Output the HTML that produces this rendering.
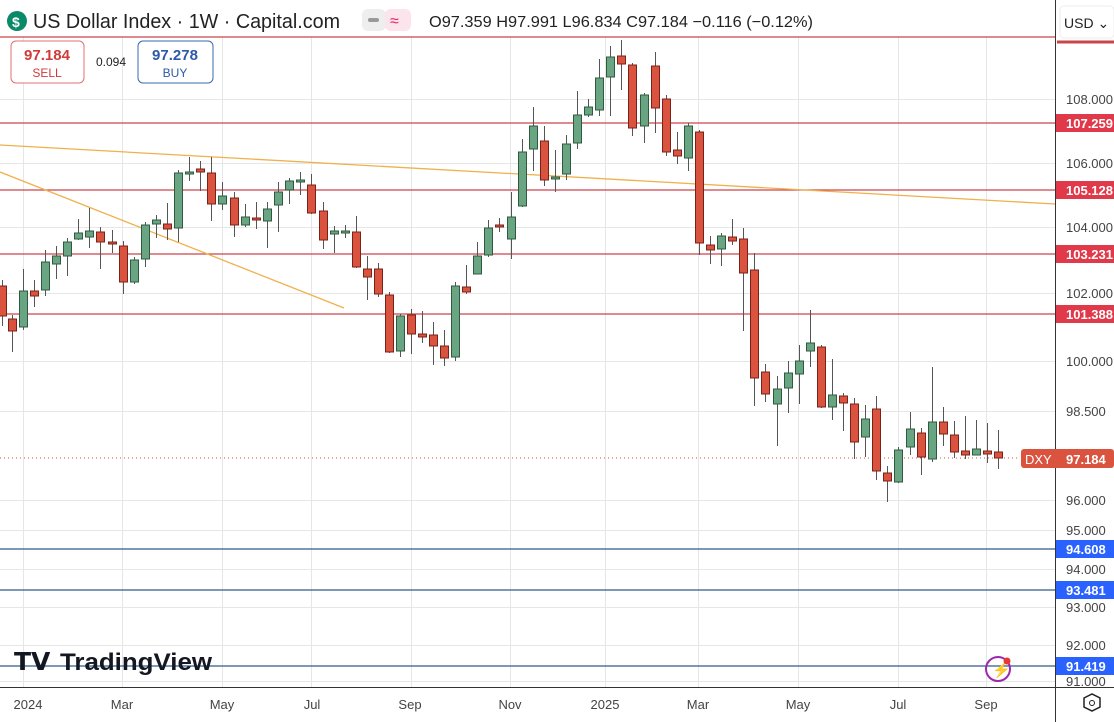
<!DOCTYPE html>
<html><head><meta charset="utf-8"><style>
body{margin:0;width:1114px;height:722px;overflow:hidden;background:#fff;font-family:"Liberation Sans",sans-serif;}
svg{position:absolute;left:0;top:0}
</style></head><body>
<svg id="s" width="1114" height="722" xmlns="http://www.w3.org/2000/svg" font-family="Liberation Sans, sans-serif">
<g id="grid" stroke="#e6e6e6" stroke-width="1"></g>
<line x1="0" y1="37" x2="1055" y2="37" stroke="#c9454a" stroke-width="1.3"/>
<g stroke="#c9454a" stroke-width="1.2">
<line x1="0" y1="123" x2="1055" y2="123"/><line x1="0" y1="190" x2="1055" y2="190"/>
<line x1="0" y1="254" x2="1055" y2="254"/><line x1="0" y1="314" x2="1055" y2="314"/></g>
<g stroke="#2f5a8a" stroke-width="1.2">
<line x1="0" y1="549" x2="1055" y2="549"/><line x1="0" y1="590" x2="1055" y2="590"/><line x1="0" y1="666" x2="1055" y2="666"/></g>
<g stroke="#f0b04c" stroke-width="1.3"><line x1="0" y1="145" x2="1055" y2="204"/><line x1="0" y1="172" x2="344" y2="308"/></g>
<line x1="0" y1="458" x2="1020" y2="458" stroke="#d9533f" stroke-dasharray="1,3"/>
<g id="c"></g>
<line x1="1055.5" y1="0" x2="1055.5" y2="722" stroke="#333"/>
<line x1="0" y1="687.5" x2="1114" y2="687.5" stroke="#333"/>
<line x1="1057" y1="42" x2="1114" y2="42" stroke="#c9454a" stroke-width="3"/>
<rect x="1060" y="6" width="54" height="32" rx="4" fill="#fff" stroke="#eee"/>
<text x="1064" y="28" font-size="14" fill="#222">USD ⌄</text>
<g font-size="13" fill="#444">
<text x="1066" y="104">108.000</text><text x="1066" y="168">106.000</text><text x="1066" y="232">104.000</text>
<text x="1066" y="298">102.000</text><text x="1066" y="366">100.000</text><text x="1066" y="416">98.500</text>
<text x="1066" y="505">96.000</text><text x="1066" y="535">95.000</text><text x="1066" y="574">94.000</text>
<text x="1066" y="612">93.000</text><text x="1066" y="650">92.000</text><text x="1066" y="686">91.000</text></g>
<g font-size="13" fill="#fff" font-weight="bold">
<rect x="1056" y="114" width="58" height="18" fill="#e0394a"/><text x="1066" y="128">107.259</text>
<rect x="1056" y="181" width="58" height="18" fill="#e0394a"/><text x="1066" y="195">105.128</text>
<rect x="1056" y="245" width="58" height="18" fill="#e0394a"/><text x="1066" y="259">103.231</text>
<rect x="1056" y="305" width="58" height="18" fill="#e0394a"/><text x="1066" y="319">101.388</text>
<rect x="1056" y="540" width="58" height="18" fill="#2962ff"/><text x="1066" y="554">94.608</text>
<rect x="1056" y="581" width="58" height="18" fill="#2962ff"/><text x="1066" y="595">93.481</text>
<rect x="1056" y="657" width="58" height="18" fill="#2962ff"/><text x="1066" y="671">91.419</text>
<rect x="1021" y="449" width="93" height="19" rx="3" fill="#d9533f"/><text x="1025" y="464" font-weight="normal">DXY</text><text x="1066" y="464">97.184</text></g>
<g font-size="13" fill="#444" text-anchor="middle">
<text x="28" y="709">2024</text><text x="122" y="709">Mar</text><text x="222" y="709">May</text><text x="312" y="709">Jul</text>
<text x="410" y="709">Sep</text><text x="510" y="709">Nov</text><text x="605" y="709">2025</text><text x="698" y="709">Mar</text>
<text x="798" y="709">May</text><text x="898" y="709">Jul</text><text x="986" y="709">Sep</text></g>
<polygon points="1084,698 1092,694 1100,698 1100,707 1092,711 1084,707" fill="none" stroke="#222" stroke-width="1.5"/>
<circle cx="1092" cy="703" r="2.5" fill="none" stroke="#222"/>
<circle cx="998" cy="669" r="12" fill="none" stroke="#9c27b0" stroke-width="2"/>
<text x="992" y="675" font-size="15" fill="#9c27b0">⚡</text><circle cx="1007" cy="661" r="3.5" fill="#e53935"/>
<rect x="0" y="0" width="1055" height="36" fill="#fff"/>
<circle cx="17" cy="21" r="10" fill="#0b8a6a"/><text x="12" y="27" font-size="14" fill="#fff" font-weight="bold">$</text>
<text x="33" y="28" font-size="20" fill="#222" textLength="307" lengthAdjust="spacingAndGlyphs">US Dollar Index · 1W · Capital.com</text>
<rect x="362" y="9" width="24" height="22" rx="6" fill="#eee"/><rect x="368" y="18" width="11" height="4" rx="2" fill="#999"/>
<rect x="385" y="9" width="26" height="22" rx="6" fill="#fce4ec"/><text x="390" y="26" font-size="16" fill="#e91e63">≈</text>
<text x="429" y="27" font-size="16" fill="#222" textLength="384" lengthAdjust="spacingAndGlyphs">O97.359 H97.991 L96.834 C97.184 −0.116 (−0.12%)</text>
<rect x="11" y="41" width="73" height="42" rx="5" fill="#fff" stroke="#e07070"/>
<text x="47" y="60" font-size="15" fill="#d03a3a" text-anchor="middle" font-weight="bold">97.184</text>
<text x="47" y="77" font-size="12" fill="#d03a3a" text-anchor="middle">SELL</text>
<text x="96" y="66" font-size="12" fill="#222">0.094</text>
<rect x="138" y="41" width="75" height="42" rx="5" fill="#fff" stroke="#3a6ab0"/>
<text x="175" y="60" font-size="15" fill="#2c5aa8" text-anchor="middle" font-weight="bold">97.278</text>
<text x="175" y="77" font-size="12" fill="#2c5aa8" text-anchor="middle">BUY</text>
<text x="14" y="670" font-size="25" fill="#131722" font-weight="bold">𝗧𝗩</text>
<text x="60" y="670" font-size="24" fill="#131722" font-weight="bold" textLength="152" lengthAdjust="spacingAndGlyphs">TradingView</text>
</svg>
<script>
var NS="http://www.w3.org/2000/svg";
function el(p,t,a){var e=document.createElementNS(NS,t);for(var k in a)e.setAttribute(k,a[k]);p.appendChild(e);return e;}
var g=document.getElementById('grid');
[23,122,222,311,411,510,605,698,798,898,986].forEach(function(x){el(g,'line',{x1:x+.5,y1:37,x2:x+.5,y2:687});});
[99,163,227,293,361,411,500,530,569,607,645,681].forEach(function(y){el(g,'line',{x1:0,y1:y+.5,x2:1055,y2:y+.5});});
var d=[[2,286,316,280,326],[12,319,331,315,352],[23,327,291,269,330],[34,291,296,280,307],[45,290,262,250,296],[56,264,256,246,279],[67,256,242,238,276],[78,239,233,219,240],[89,237,231,208,248],[100,232,242,227,269],[112,242,244,230,253],[123,246,282,241,294],[134,282,260,257,284],[145,259,225,222,267],[156,224,220,215,238],[167,224,229,203,240],[178,228,173,170,242],[189,173,172,157,181],[200,169,172,161,191],[211,173,204,157,221],[222,204,196,182,210],[234,198,225,192,237],[245,225,217,204,227],[256,218,220,202,229],[267,221,209,202,248],[278,205,192,182,232],[289,190,181,178,204],[300,181,180,172,195],[311,185,213,174,214],[323,211,240,202,249],[334,234,231,226,253],[345,232,231,225,238],[356,232,267,216,268],[367,269,277,256,300],[378,269,294,263,297],[389,295,352,292,353],[400,351,316,314,357],[411,315,334,309,354],[422,334,337,311,343],[433,335,346,322,365],[444,346,358,330,366],[455,357,286,282,361],[466,287,292,265,294],[477,274,256,242,274],[488,255,228,220,257],[499,225,227,218,232],[511,239,217,192,259],[522,206,152,139,207],[533,149,126,107,171],[544,141,180,126,186],[555,179,177,150,192],[566,174,144,135,180],[577,143,115,91,149],[588,115,107,99,117],[599,110,78,59,116],[610,77,57,46,116],[621,56,64,40,90],[632,65,128,63,136],[644,126,95,93,143],[655,66,108,52,133],[666,99,152,95,156],[677,150,156,132,164],[688,158,126,123,171],[699,132,243,130,255],[710,245,250,236,264],[721,249,236,233,266],[732,237,241,219,245],[743,239,273,228,331],[754,270,378,253,406],[765,372,394,364,402],[777,404,389,376,446],[788,388,373,361,413],[799,374,361,345,404],[810,351,343,310,367],[821,347,407,345,408],[832,407,395,359,420],[843,396,403,393,431],[854,404,442,398,459],[865,437,419,405,457],[876,409,471,396,480],[887,473,481,466,502],[898,482,450,447,483],[910,447,429,412,455],[921,433,457,428,475],[932,459,422,367,462],[943,422,434,407,446],[954,435,452,421,458],[965,451,455,416,459],[976,455,449,420,455],[987,451,454,423,463],[998,452,458,430,469]];
var c=document.getElementById('c');
d.forEach(function(a){var x=a[0],o=a[1],cl=a[2],up=cl<o;
var top=Math.min(o,cl),bot=Math.max(o,cl);if(bot-top<2)bot=top+2;
el(c,'line',{x1:x+.5,y1:a[3],x2:x+.5,y2:a[4],stroke:'#555','stroke-width':1});
el(c,'rect',{x:x-3.5,y:top,width:8,height:bot-top,fill:up?'#6aa583':'#d9533f',stroke:up?'#2e5a3e':'#7a2218','stroke-width':1});});
</script>
</body></html>
